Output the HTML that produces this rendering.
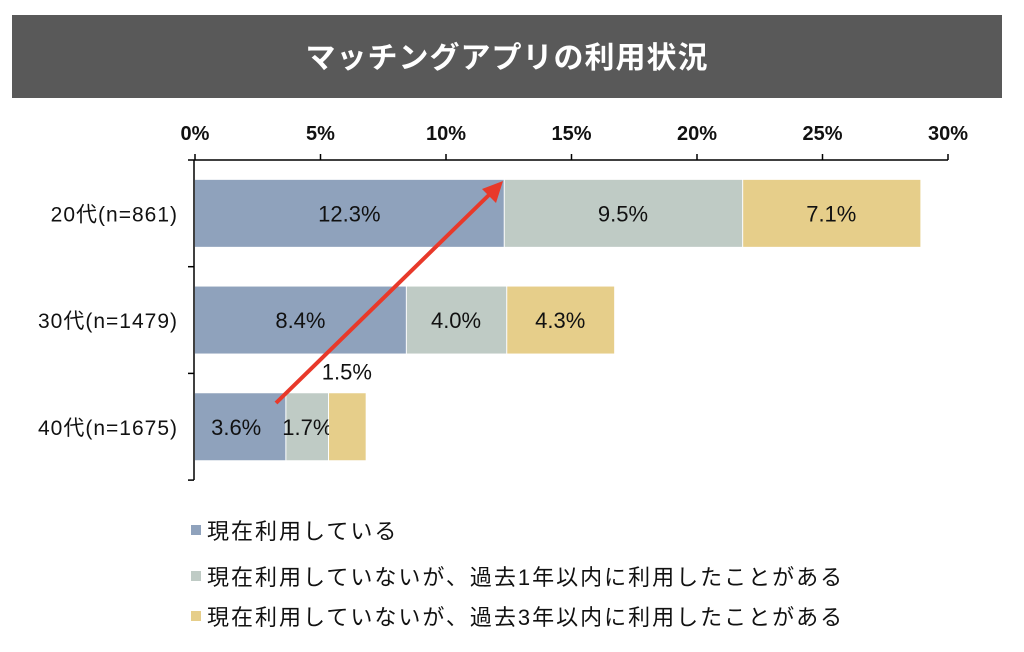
<!DOCTYPE html>
<html><head><meta charset="utf-8">
<style>
body{margin:0;background:#fff;font-family:"Liberation Sans","Noto Sans CJK JP",sans-serif;}
#wrap{position:relative;width:1024px;height:652px;overflow:hidden;}
</style></head>
<body>
<div id="wrap">
<svg id="chart" width="1024" height="652" xmlns="http://www.w3.org/2000/svg" font-family="Liberation Sans, Noto Sans CJK JP, sans-serif">
<rect x="12" y="15" width="990" height="83" fill="#595959"/>
<text x="507" y="68" fill="#fff" font-size="30" text-anchor="middle" font-weight="bold" letter-spacing="1">マッチングアプリの利用状況</text>
<g id="plot"></g>
<g font-size="22" letter-spacing="2" fill="#111">
<rect x="191" y="525" width="10" height="10" fill="#8FA2BC"/>
<text x="207" y="539">現在利用している</text>
<rect x="191" y="571" width="10" height="10" fill="#BFCBC5"/>
<text x="207" y="585">現在利用していないが、過去1年以内に利用したことがある</text>
<rect x="191" y="611" width="10" height="10" fill="#E6CE8A"/>
<text x="207" y="625">現在利用していないが、過去3年以内に利用したことがある</text>
</g>
<line x1="276" y1="403" x2="492" y2="192" stroke="#E8392A" stroke-width="4"/>
<polygon points="503,181 496,203 482,189" fill="#E8392A"/>
</svg>
</div>
<script>
const categories = ["20代(n=861)", "30代(n=1479)", "40代(n=1675)"];
const current = [12.3, 8.4, 3.6];
const past1yr = [9.5, 4.0, 1.7];
const past3yr = [7.1, 4.3, 1.5];
const ticks = [0, 5, 10, 15, 20, 25, 30];
const tickLabels = ["0%", "5%", "10%", "15%", "20%", "25%", "30%"];

const NS = "http://www.w3.org/2000/svg";
const g = document.getElementById("plot");
const x0 = 195, pxPer = 25.1, axisY = 160, axisBottom = 480;
const bandTop = 160, bandH = 106.7, barH = 67;
const x = v => x0 + v * pxPer;
function el(tag, attrs){const e=document.createElementNS(NS,tag);for(const k in attrs)e.setAttribute(k,attrs[k]);g.appendChild(e);return e;}

let ax = el("line",{x1:x0-1,y1:axisY,x2:x(30),y2:axisY,stroke:"#000","stroke-width":1.5});


let ay = el("line",{x1:x0-1,y1:axisY,x2:x0-1,y2:axisBottom,stroke:"#000","stroke-width":1.5});



ticks.forEach((t,i)=>{
  const tk = el("line",{x1:x(t),y1:axisY-6,x2:x(t),y2:axisY,stroke:"#000","stroke-width":1.5});
  
  
  const tl = el("text",{x:x(t),y:axisY-20,"font-size":20,"text-anchor":"middle",fill:"#111","font-weight":"bold"});
  tl.textContent = tickLabels[i];
  
  
});
for(let i=0;i<=categories.length;i++){
  const yy = bandTop + i*bandH;
  const tk = el("line",{x1:x0-7,y1:yy,x2:x0-1,y2:yy,stroke:"#000","stroke-width":1.5});
  
  
}
const colors = ["#8FA2BC","#BFCBC5","#E6CE8A"];
const series = [current, past1yr, past3yr];
categories.forEach((c,i)=>{
  const yTop = bandTop + i*bandH + (bandH-barH)/2;
  const cl = el("text",{x:x0-17,y:yTop+barH/2+8,"font-size":21,"text-anchor":"end",fill:"#111","letter-spacing":1});
  cl.textContent = c;
  
  
  let acc = 0;
  series.forEach((s,j)=>{
    const v = s[i];
    const r = el("rect",{x:x(acc)+(j?1:0),y:yTop,width:Math.max(0,v*pxPer-(j?1:0)),height:barH,fill:colors[j]});
    
    
    const cx = x(acc + v/2);
    let ly = yTop + barH/2 + 8;
    let lx = cx;
    if (v < 1.6 && j===2){ ly = yTop - 14; }
    if (i===2 && j===1){ lx = x(acc) + 22; }
    if (i===2 && j===0){ lx = cx - 4; }
    const t = el("text",{x:lx,y:ly,"font-size":22,"text-anchor":"middle",fill:"#111"});
    t.textContent = v.toFixed(1) + "%";
    
    
    acc += v;
  });
});
</script>
</body></html>
